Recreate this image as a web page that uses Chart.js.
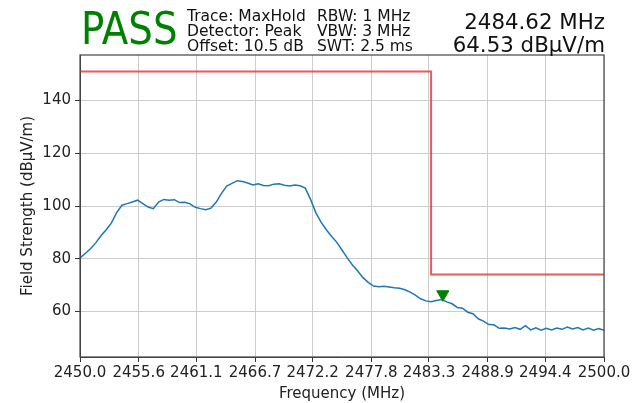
<!DOCTYPE html>
<html>
<head>
<meta charset="utf-8">
<script src="https://cdn.jsdelivr.net/npm/chart.js@4/dist/chart.umd.min.js"></script>
<style>
    body { margin: 0; background: #fff; }
    #wrap { position: relative; width: 636px; height: 403px; font-family: "DejaVu Sans", sans-serif; }
    canvas { position: absolute; left: 0; top: 0; }
    .hdr { position: absolute; white-space: nowrap; color: #111; transform-origin: 0 0; }
    #pass { left: 81px; top: 3px; font-size: 44px; color: #008000; transform: scaleX(0.88); }
    .info { font-size: 16px; line-height: 15px; transform: scaleX(0.97); }
    #col1 { left: 187px; top: 8px; }
    #col2 { left: 317px; top: 8px; }
    #marker { right: 31px; top: 10px; font-size: 22px; line-height: 23px; text-align: right; transform-origin: 100% 0; transform: scaleX(0.97); }
</style>
</head>
<body>
<div id="wrap">
    <canvas id="chart" width="636" height="403"></canvas>
    <div class="hdr" id="pass">PASS</div>
    <div class="hdr info" id="col1">Trace: MaxHold<br>Detector: Peak<br>Offset: 10.5 dB</div>
    <div class="hdr info" id="col2">RBW: 1 MHz<br>VBW: 3 MHz<br>SWT: 2.5 ms</div>
    <div class="hdr" id="marker">2484.62 MHz<br>64.53 dBµV/m</div>
</div>
<script>
    // 扫频起点和步进 (MHz)
    const startFreq = 2450;
    const stepFreq = 0.5;

    // 测量电平 (dBµV/m), 每 0.5 MHz 一个点
    const levels = [
        80.3, 82.0, 83.8, 86.0, 88.7, 91.0, 93.6, 97.5, 100.3, 100.9,
        101.5, 102.2, 100.9, 99.6, 99.0, 101.5, 102.5, 102.2, 102.4, 101.3,
        101.4, 100.8, 99.5, 99.0, 98.6, 99.2, 101.5, 104.8, 107.6, 108.6,
        109.6, 109.3, 108.7, 108.0, 108.4, 107.8, 107.7, 108.3, 108.4, 107.9,
        107.6, 108.0, 107.7, 106.8, 102.5, 97.5, 93.9, 91.0, 88.5, 86.2,
        83.3, 80.3, 77.6, 75.3, 72.8, 71.0, 69.6, 69.4, 69.5, 69.3,
        69.0, 68.8, 68.2, 67.3, 66.2, 64.8, 64.0, 63.7, 64.1, 64.5,
        63.6, 62.9, 61.5, 61.2, 59.7, 59.1, 57.2, 56.3, 55.0, 54.9,
        53.6, 53.7, 53.3, 53.9, 53.2, 54.6, 53.0, 53.8, 52.9, 53.6,
        53.0, 53.7, 53.2, 54.1, 53.3, 53.9, 53.0, 53.7, 52.9, 53.5,
        52.8
    ];

    // 限值线 (频率, 电平)
    const limitFreqs = [2450, 2483.5, 2483.5, 2500];
    const limitLevels = [151, 151, 74, 74];

    // 标记点
    const markerFreq = [2484.62];
    const markerLevel = [66.5];

    // 坐标轴刻度
    const xTicks = [2450.0, 2455.6, 2461.1, 2466.7, 2472.2, 2477.8, 2483.3, 2488.9, 2494.4, 2500.0];
    const yTicks = [60, 80, 100, 120, 140];

    const tracePoints = levels.map((v, i) => ({ x: startFreq + i * stepFreq, y: v }));
    const limitPoints = limitFreqs.map((f, i) => ({ x: f, y: limitLevels[i] }));
    const markerPoints = markerFreq.map((f, i) => ({ x: f, y: markerLevel[i] }));

    // 画外框
    const frameBox = {
        id: 'frameBox',
        afterDatasetsDraw(chart) {
            const a = chart.chartArea;
            const ctx = chart.ctx;
            ctx.save();
            ctx.strokeStyle = '#444';
            ctx.lineWidth = 1.2;
            ctx.strokeRect(a.left, a.top, a.right - a.left, a.bottom - a.top);
            ctx.restore();
        }
    };

    const tickFont = { family: 'DejaVu Sans', size: 15 };

    new Chart(document.getElementById('chart').getContext('2d'), {
        type: 'scatter',
        data: {
            datasets: [
                {
                    label: 'limit',
                    data: limitPoints,
                    showLine: true,
                    borderColor: 'rgba(232, 60, 60, 0.85)',
                    borderWidth: 2,
                    pointRadius: 0,
                    order: 2
                },
                {
                    label: 'trace',
                    data: tracePoints,
                    showLine: true,
                    borderColor: '#1f77b4',
                    borderWidth: 1.5,
                    pointRadius: 0,
                    order: 1
                },
                {
                    label: 'marker',
                    data: markerPoints,
                    pointStyle: 'triangle',
                    rotation: 180,
                    pointRadius: 7,
                    backgroundColor: '#008000',
                    borderColor: '#008000',
                    order: 0
                }
            ]
        },
        options: {
            responsive: false,
            animation: false,
            layout: { padding: { top: 55, right: 32, left: 19, bottom: 0 } },
            plugins: { legend: { display: false }, tooltip: { enabled: false } },
            scales: {
                x: {
                    type: 'linear',
                    min: 2450,
                    max: 2500,
                    afterBuildTicks: s => { s.ticks = xTicks.map(v => ({ value: v })); },
                    afterFit: s => { s.height = 46; },
                    ticks: {
                        color: '#222',
                        font: tickFont,
                        padding: 2,
                        maxRotation: 0,
                        autoSkip: false,
                        callback: v => Number(v).toFixed(1)
                    },
                    grid: { color: '#cccccc', tickColor: '#333', tickLength: 5 },
                    border: { color: '#444' },
                    title: { display: true, text: 'Frequency (MHz)', font: tickFont, color: '#222', padding: 0 }
                },
                y: {
                    min: 42.7,
                    max: 157.3,
                    afterBuildTicks: s => { s.ticks = yTicks.map(v => ({ value: v })); },
                    afterFit: s => { s.width = 61; },
                    ticks: { color: '#222', font: tickFont, padding: 4 },
                    grid: { color: '#cccccc', tickColor: '#333', tickLength: 5 },
                    border: { color: '#444' },
                    title: { display: true, text: 'Field Strength (dBµV/m)', font: tickFont, color: '#222', padding: 0 }
                }
            }
        },
        plugins: [frameBox]
    });
</script>
</body>
</html>
